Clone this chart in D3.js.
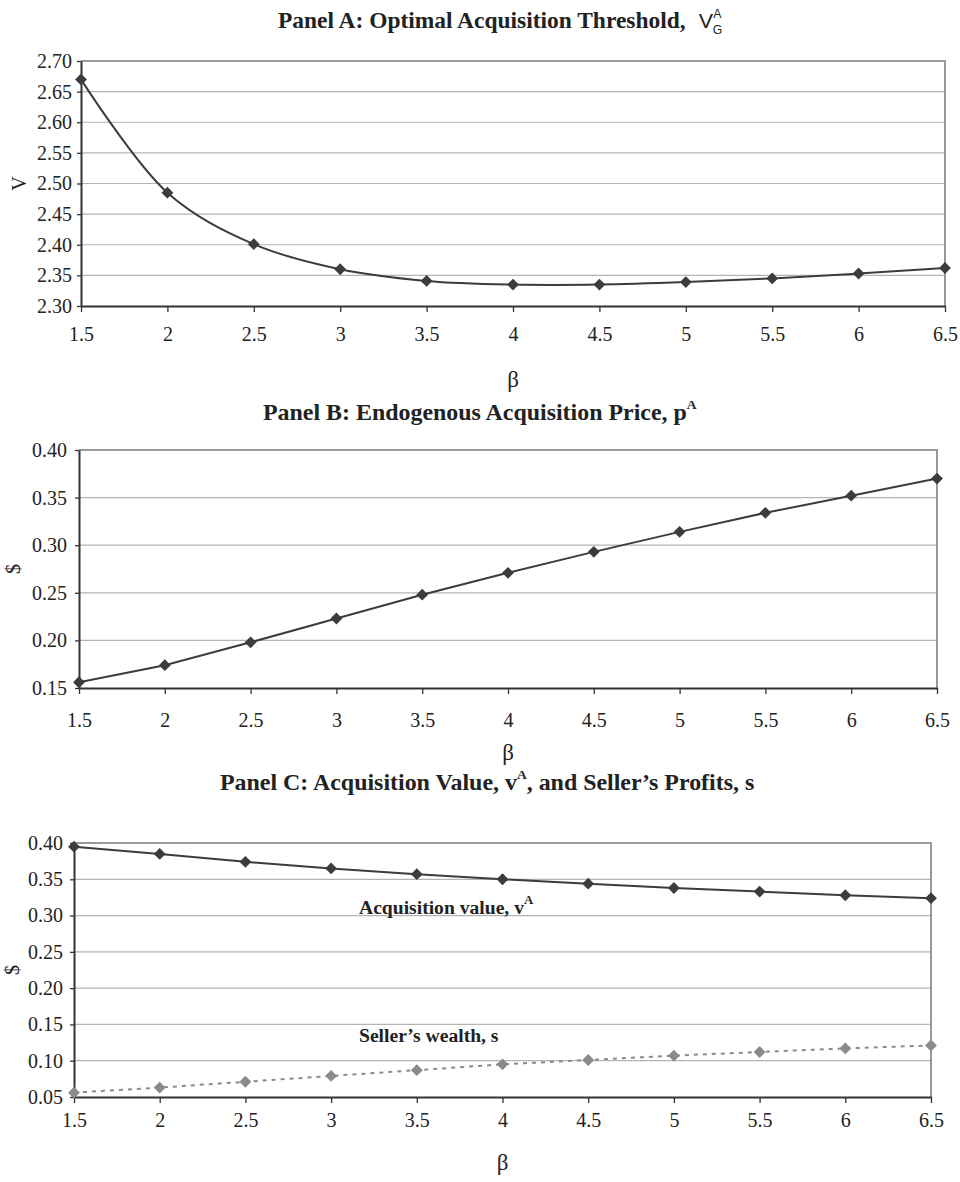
<!DOCTYPE html>
<html>
<head>
<meta charset="utf-8">
<script src="https://cdn.jsdelivr.net/npm/d3@7"></script>
<style>
  body { margin: 0; background: #fff; }
  svg { display: block; }
  text { font-family: "Liberation Serif", "Times New Roman", serif; fill: #222; }
</style>
</head>
<body>
<div id="chart"></div>
<script>
// beta values along the x axis
const betas = [1.5, 2, 2.5, 3, 3.5, 4, 4.5, 5, 5.5, 6, 6.5];

// Panel A: optimal acquisition threshold V_G^A
const thresholdV = [2.670, 2.485, 2.401, 2.360, 2.341, 2.335, 2.335, 2.339, 2.345, 2.353, 2.362];
// Panel B: endogenous acquisition price p^A
const priceP = [0.156, 0.174, 0.198, 0.223, 0.248, 0.271, 0.293, 0.314, 0.334, 0.352, 0.370];
// Panel C: acquisition value v^A and seller's wealth s
const acqValue = [0.395, 0.385, 0.374, 0.365, 0.357, 0.350, 0.344, 0.338, 0.333, 0.328, 0.324];
const sellerWealth = [0.056, 0.063, 0.071, 0.079, 0.087, 0.095, 0.101, 0.107, 0.112, 0.117, 0.121];

const yTicksA = [2.30, 2.35, 2.40, 2.45, 2.50, 2.55, 2.60, 2.65, 2.70];
const yTicksB = [0.15, 0.20, 0.25, 0.30, 0.35, 0.40];
const yTicksC = [0.05, 0.10, 0.15, 0.20, 0.25, 0.30, 0.35, 0.40];

const width = 960, height = 1182;
const dark = "#3c3c3c", grey = "#8a8a8a";
const sans = "'Liberation Sans', Arial, sans-serif";

const svg = d3.select("#chart").append("svg")
    .attr("width", width)
    .attr("height", height);

const drawPanel = (p) => {
    const x = d3.scaleLinear().domain([betas[0], betas[betas.length - 1]]).range([p.left, p.right]);
    const y = d3.scaleLinear().domain(d3.extent(p.yTicks)).range([p.bottom, p.top]);

    const g = svg.append("g");

    // horizontal grid
    g.append("g").selectAll("line")
        .data(p.yTicks.slice(1, -1))
        .join("line")
        .attr("x1", p.left).attr("x2", p.right)
        .attr("y1", d => y(d)).attr("y2", d => y(d))
        .attr("stroke", "#b4b4b4")
        .attr("stroke-width", 1.2);

    // top and right frame
    g.append("path")
        .attr("d", `M${p.left},${p.top}H${p.right}V${p.bottom}`)
        .attr("fill", "none")
        .attr("stroke", "#999")
        .attr("stroke-width", 2);

    const yAxis = g.append("g")
        .attr("transform", `translate(${p.left},0)`)
        .call(d3.axisLeft(y).tickValues(p.yTicks).tickFormat(d3.format(".2f")).tickSize(4).tickPadding(p.yPad).tickSizeOuter(0));

    const xAxis = g.append("g")
        .attr("transform", `translate(0,${p.bottom})`)
        .call(d3.axisBottom(x).tickValues(betas).tickFormat(d => d).tickSize(6).tickSizeOuter(0));

    [yAxis, xAxis].forEach(a => {
        a.attr("font-family", null).attr("font-size", null);
        a.select(".domain").attr("stroke", "#333").attr("stroke-width", 2);
        a.selectAll(".tick line").attr("stroke", "#333").attr("stroke-width", 1.3);
        a.selectAll("text").style("font-size", "20px").attr("fill", "#222");
    });
    xAxis.selectAll("text").attr("dy", 0).attr("y", p.xLabelY);

    // series
    p.series.forEach(s => {
        const line = d3.line()
            .x((d, i) => x(betas[i]))
            .y(d => y(d))
            .curve(s.curve);
        g.append("path")
            .datum(s.values)
            .attr("d", line)
            .attr("fill", "none")
            .attr("stroke", s.color)
            .attr("stroke-width", 2)
            .attr("stroke-dasharray", s.dash);

        g.append("g").selectAll("path")
            .data(s.values)
            .join("path")
            .attr("d", d3.symbol().type(d3.symbolSquare).size(70))
            .attr("transform", (d, i) => `translate(${x(betas[i])},${y(d)}) rotate(45)`)
            .attr("fill", s.color);
    });

    // axis titles
    g.append("text")
        .attr("transform", `translate(${p.yLabelX},${(p.top + p.bottom) / 2}) rotate(-90)`)
        .attr("text-anchor", "middle")
        .attr("dy", "0.35em")
        .style("font-size", "20px")
        .text(p.yLabel);

    g.append("text")
        .attr("x", (p.left + p.right) / 2)
        .attr("y", p.betaY)
        .attr("text-anchor", "middle")
        .style("font-size", "23px")
        .text("β");
};

// bold serif text, a little wider than Liberation Serif Bold
const boldText = (x, y, size, stretch) => svg.append("text")
    .attr("transform", `translate(${x},${y}) scale(${stretch},1)`)
    .style("font-size", size + "px")
    .style("font-weight", "bold");

// titles
const titleA = boldText(278, 28, 23, 1.02);
titleA.append("tspan").text("Panel A: Optimal Acquisition Threshold,");
titleA.append("tspan").attr("dx", 13).style("font-family", sans)
    .style("font-weight", "normal").style("font-size", "21px").text("V");
titleA.append("tspan").style("font-family", sans)
    .style("font-weight", "normal").style("font-size", "12px").attr("dy", -10).text("A");
titleA.append("tspan").style("font-family", sans)
    .style("font-weight", "normal").style("font-size", "12px").attr("dx", -8.5).attr("dy", 16).text("G");

const titleB = boldText(263, 420, 23, 1.04);
titleB.append("tspan").text("Panel B: Endogenous Acquisition Price, p");
titleB.append("tspan").style("font-size", "13px").attr("dy", -11).text("A");

const titleC = boldText(220, 790, 23, 1.04);
titleC.append("tspan").text("Panel C: Acquisition Value, v");
titleC.append("tspan").style("font-size", "13px").attr("dy", -11).text("A");
titleC.append("tspan").attr("dy", 11).text(", and Seller’s Profits, s");

drawPanel({
    left: 81, right: 945, top: 61, bottom: 306,
    yTicks: yTicksA, yPad: 5, xLabelY: 35,
    yLabel: "V", yLabelX: 19, betaY: 387,
    series: [{ values: thresholdV, color: dark, dash: null, curve: d3.curveCatmullRom }]
});

drawPanel({
    left: 79, right: 937, top: 450, bottom: 688,
    yTicks: yTicksB, yPad: 8, xLabelY: 39,
    yLabel: "$", yLabelX: 13, betaY: 760,
    series: [{ values: priceP, color: dark, dash: null, curve: d3.curveLinear }]
});

drawPanel({
    left: 74, right: 931, top: 843, bottom: 1097,
    yTicks: yTicksC, yPad: 7, xLabelY: 30,
    yLabel: "$", yLabelX: 12, betaY: 1170,
    series: [
        { values: acqValue, color: dark, dash: null, curve: d3.curveLinear },
        { values: sellerWealth, color: grey, dash: "4,5", curve: d3.curveLinear }
    ]
});

// in-plot labels for panel C
const labAcq = boldText(359, 914, 18.5, 1.06);
labAcq.append("tspan").text("Acquisition value, v");
labAcq.append("tspan").style("font-size", "12px").attr("dy", -10).text("A");

boldText(359, 1042, 18.5, 1.06).text("Seller’s wealth, s");
</script>
</body>
</html>
